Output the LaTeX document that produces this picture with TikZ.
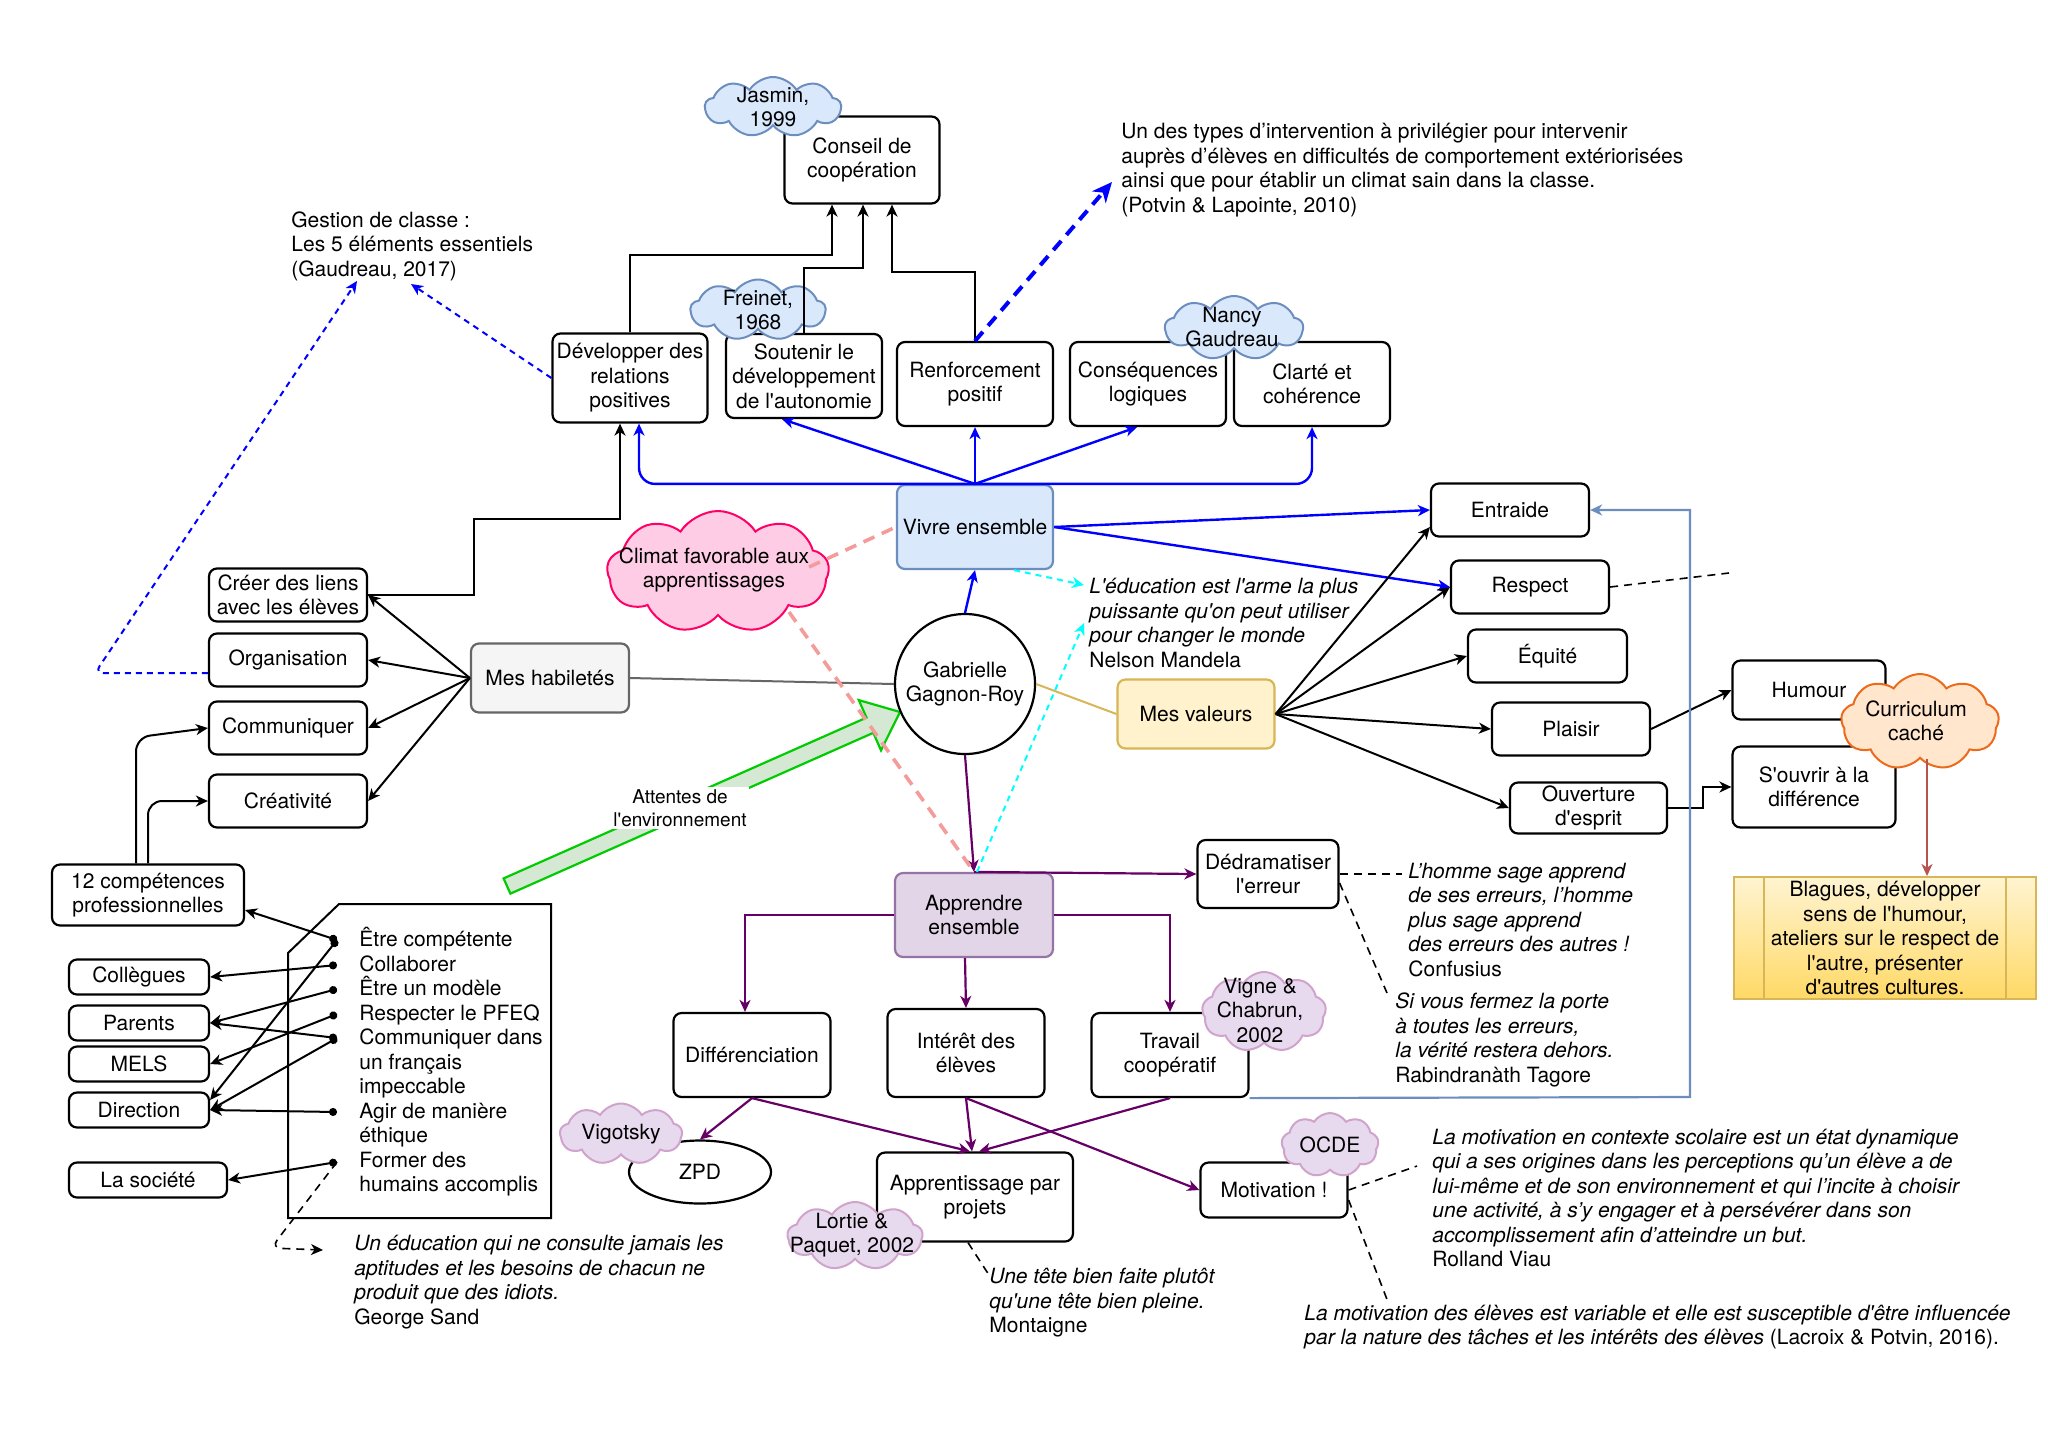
\documentclass[tikz,border=0pt]{standalone}
\usepackage{fontspec}
\setmainfont{TeX Gyre Heros}[Ligatures=TeXOff]
\usetikzlibrary{arrows.meta,shapes.symbols,shapes.geometric,calc}
\definecolor{bluefill}{HTML}{DAE8FC}
\definecolor{bluestroke}{HTML}{6C8EBF}
\definecolor{purfill}{HTML}{E1D5E7}
\definecolor{purstroke}{HTML}{9673A6}
\definecolor{purcfill}{HTML}{E8DAEE}
\definecolor{purcstroke}{HTML}{CFA3CB}
\definecolor{yelfill}{HTML}{FFF2CC}
\definecolor{yelstroke}{HTML}{D6B656}
\definecolor{grayfill}{HTML}{F5F5F5}
\definecolor{graystroke}{HTML}{666666}
\definecolor{pinkfill}{HTML}{FFCCE6}
\definecolor{pinkstroke}{HTML}{FF0066}
\definecolor{orfill}{HTML}{FFE6CC}
\definecolor{orstroke}{HTML}{EC6A1A}
\definecolor{salmon}{HTML}{F49C99}
\definecolor{purpline}{HTML}{660066}
\definecolor{greenline}{HTML}{00CC00}
\definecolor{greenfill}{HTML}{D5E8D4}
\definecolor{redline}{HTML}{B85450}
\definecolor{goldline}{HTML}{D6B656}
\definecolor{blagtop}{HTML}{FFF4D2}
\definecolor{blagbot}{HTML}{FFD966}
\definecolor{pureblue}{HTML}{0000FF}
\definecolor{purecyan}{HTML}{00FFFF}
\begin{document}
\begin{tikzpicture}[x=0.5pt,y=-0.5pt,
  every node/.style={font=\fontsize{10.5pt}{12.25pt}\selectfont},
  bx/.style={draw, rounded corners=4pt, line width=1.1pt, fill=white, align=center, inner sep=1pt},
  cloudy/.style={cloud, cloud puffs=9, cloud puff arc=115, cloud ignores aspect, draw, line width=1pt, inner sep=0pt},
  ctext/.style={align=center, inner sep=0pt},
  txt/.style={align=left, inner sep=0pt, anchor=west},
  tip/.style={-{Stealth[length=6pt,width=5.5pt,inset=1.8pt]}},
  blk/.style={tip, line width=1pt, black},
  blu/.style={tip, line width=1.2pt, pureblue},
  pur/.style={tip, line width=1.1pt, purpline},
  dotarrow/.style={{Circle[length=4pt]}-{Stealth[length=6pt,width=5.5pt,inset=1.8pt]}, line width=1pt},
  notes/.style={line width=0.8pt, dash pattern=on 4pt off 3pt},
  thindash/.style={line width=1pt, dash pattern=on 3pt off 2.5pt}
]
\useasboundingbox (0,0) rectangle (2048,1452);

% green arrow
\draw[greenline, fill=greenfill, line width=1.1pt] (503.6,878.4) -- (866.5,717.6) -- (858.8,700.1) -- (900,712) -- (881.0,750.3) -- (873.3,732.8) -- (510.4,893.6) -- cycle;

% list box
\draw[line width=1pt] (339,904) -- (551,904) -- (551,1218) -- (288,1218) -- (288,953) -- cycle;

% boxes
\node[bx, minimum width=77.5pt, minimum height=43.5pt] (conseil) at (862,160) {Conseil de\\coopération};
\node[bx, minimum width=77.5pt, minimum height=44.5pt] (dev) at (630,378) {Développer des\\relations\\positives};
\node[bx, minimum width=78pt, minimum height=42pt] (sout) at (804,376) {Soutenir le\\développement\\de l'autonomie};
\node[bx, minimum width=78pt, minimum height=42pt] (renf) at (975,384) {Renforcement\\positif};
\node[bx, minimum width=78pt, minimum height=42pt] (cons) at (1148,384) {Conséquences\\logiques};
\node[bx, minimum width=78pt, minimum height=42pt] (clar) at (1312,384) {Clarté et\\cohérence};
\node[bx, fill=bluefill, draw=bluestroke, minimum width=78pt, minimum height=42pt] (vivre) at (975,527) {Vivre ensemble};
\node[draw, circle, line width=1.1pt, fill=white, minimum size=70pt, align=center, inner sep=0pt] (gab) at (965,684) {Gabrielle\\Gagnon-Roy};
\node[bx, fill=grayfill, draw=graystroke, minimum width=79pt, minimum height=34.5pt] (hab) at (550,678) {Mes habiletés};
\node[bx, fill=yelfill, draw=yelstroke, minimum width=78.5pt, minimum height=34.5pt] (valeurs) at (1196,714) {Mes valeurs};
\node[bx, fill=purfill, draw=purstroke, minimum width=79pt, minimum height=42pt] (apprendre) at (974,915) {Apprendre\\ensemble};

\node[bx, minimum width=79pt, minimum height=26.5pt] (creer) at (288,595) {Créer des liens\\avec les élèves};
\node[bx, minimum width=79pt, minimum height=26.5pt] (orga) at (288,660) {Organisation};
\node[bx, minimum width=79pt, minimum height=26.5pt] (comm) at (288,728) {Communiquer};
\node[bx, minimum width=79pt, minimum height=26.5pt] (crea) at (288,801) {Créativité};
\node[bx, minimum width=96pt, minimum height=30.5pt] (douze) at (148,895) {12 compétences\\professionnelles};
\node[bx, minimum width=70pt, minimum height=17.5pt] (coll) at (139,977) {Collègues};
\node[bx, minimum width=70pt, minimum height=17.5pt] (parents) at (139,1023) {Parents};
\node[bx, minimum width=70pt, minimum height=17.5pt] (mels) at (139,1064) {MELS};
\node[bx, minimum width=70pt, minimum height=17.5pt] (direction) at (139,1110) {Direction};
\node[bx, minimum width=79pt, minimum height=17.5pt] (societe) at (148,1180) {La société};

\node[bx, minimum width=79pt, minimum height=26.5pt] (entraide) at (1510,510) {Entraide};
\node[bx, minimum width=79pt, minimum height=26.5pt] (respect) at (1530,587) {Respect};
\node[bx, minimum width=79.5pt, minimum height=26.5pt] (equite) at (1547.5,656) {Équité};
\node[bx, minimum width=79pt, minimum height=26.5pt] (plaisir) at (1571,729) {Plaisir};
\node[bx, minimum width=78.5pt, minimum height=25.5pt] (ouverture) at (1588.5,808) {Ouverture\\d'esprit};
\node[bx, minimum width=76.5pt, minimum height=29.5pt] (humour) at (1809,690) {Humour};
\node[bx, minimum width=81.5pt, minimum height=40.5pt] (souvrir) at (1814,787) {S'ouvrir à la\\différence};
\node[bx, minimum width=70.5pt, minimum height=34pt] (dedram) at (1268,874) {Dédramatiser\\l'erreur};
\node[bx, minimum width=78.5pt, minimum height=42pt] (diff) at (752,1055) {Différenciation};
\node[bx, minimum width=78.5pt, minimum height=44pt] (interet) at (966,1053) {Intérêt des\\élèves};
\node[bx, minimum width=78.5pt, minimum height=42pt] (travail) at (1170,1055) {Travail\\coopératif};
\node[bx, minimum width=98pt, minimum height=44.5pt] (appr) at (975,1197) {Apprentissage par\\projets};
\node[bx, minimum width=73.5pt, minimum height=27.5pt] (motiv) at (1274,1190) {Motivation !};
\node[draw, ellipse, line width=1.1pt, fill=white, minimum width=71pt, minimum height=31.5pt, inner sep=0pt] (zpd) at (700,1172) {ZPD};

\node[draw=yelstroke, line width=1pt, top color=blagtop, bottom color=blagbot, minimum width=151pt, minimum height=61pt, align=center, inner sep=0pt,
  path picture={\draw[yelstroke, line width=1pt] ([xshift=15pt]path picture bounding box.north west) -- ([xshift=15pt]path picture bounding box.south west);
                \draw[yelstroke, line width=1pt] ([xshift=-15pt]path picture bounding box.north east) -- ([xshift=-15pt]path picture bounding box.south east);}]
  (blagues) at (1885,938) {Blagues, développer\\sens de l'humour,\\ateliers sur le respect de\\l'autre, présenter\\d'autres cultures.};

% clouds
\node[cloudy, fill=bluefill, draw=bluestroke, minimum width=68pt, minimum height=30pt] (jasmin) at (773,107) {};
\node[ctext] (jasmintx) at (jasmin) {Jasmin,\\1999};
\node[cloudy, fill=bluefill, draw=bluestroke, minimum width=67.5pt, minimum height=30.5pt] (freinet) at (758,310) {};
\node[ctext] (freinettx) at (freinet) {Freinet,\\1968};
\node[cloudy, fill=bluefill, draw=bluestroke, minimum width=69pt, minimum height=32pt] (nancy) at (1234,328) {};
\node[ctext] (nancytx) at (1232,327) {Nancy\\Gaudreau};
\node[cloudy, fill=pinkfill, draw=pinkstroke, minimum width=111pt, minimum height=61pt] (climat) at (718,572) {};
\node[ctext] (climattx) at (714,570) {Climat favorable aux\\apprentissages};
\node[cloudy, fill=purcfill, draw=purcstroke, minimum width=61pt, minimum height=30.5pt] (vigotsky) at (621,1134) {};
\node[ctext] (vigotskytx) at (vigotsky) {Vigotsky};
\node[cloudy, fill=purcfill, draw=purcstroke, minimum width=62pt, minimum height=40pt] (vigne) at (1264,1012) {};
\node[ctext] (vignetx) at (1260,1010) {Vigne \&\\Chabrun,\\2002};
\node[cloudy, fill=purcfill, draw=purcstroke, minimum width=48.5pt, minimum height=32pt] (ocde) at (1330,1145) {};
\node[ctext] (ocdetx) at (ocde) {OCDE};
\node[cloudy, fill=purcfill, draw=purcstroke, minimum width=67.5pt, minimum height=34pt] (lortie) at (855,1236) {};
\node[ctext] (lortietx) at (852,1235) {Lortie \&\\Paquet, 2002};
\node[cloudy, fill=orfill, draw=orstroke, minimum width=79pt, minimum height=48pt] (curric) at (1920,722) {};
\node[ctext] (currictx) at (1916,721) {Curriculum\\caché};

% named free ends
\coordinate (g1) at (357,281);
\coordinate (g2) at (411,284);
\coordinate (potvintip) at (1112,182);
\coordinate (m1) at (1084,585);
\coordinate (m2) at (1084,623);
\coordinate (cA) at (809,567);
\coordinate (cB) at (789,612);
\coordinate (b1) at (337,940);
\coordinate (b2) at (337,965);
\coordinate (b3) at (337,989);
\coordinate (b4) at (337,1014);
\coordinate (b5) at (337,1038);
\coordinate (b6) at (337,1112);
\coordinate (b7) at (337,1162);
\coordinate (sandtip) at (323,1250);
\coordinate (n1) at (1402,874);
\coordinate (n2) at (1387,993);
\coordinate (n3) at (1729,573);
\coordinate (n4) at (1417,1166);
\coordinate (n5) at (1388,1302);
\coordinate (n6) at (989,1275);
\coordinate (cb) at ([xshift=3.5pt]curric.south);

% blue from Vivre ensemble
\draw[blu, rounded corners=8pt] (vivre.north) -| ([xshift=4.5pt]dev.south);
\draw[blu] (vivre.north) -- ([xshift=-11pt]sout.south);
\draw[blu] (vivre.north) -- (renf.south);
\draw[blu] (vivre.north) -- ([xshift=-5.5pt]cons.south);
\draw[blu, rounded corners=8pt] (vivre.north) -| (clar.south);
\draw[blu] (vivre.east) -- (entraide.west);
\draw[blu] (vivre.east) -- (respect.west);
\draw[blu] (gab.north) -- (vivre.south);

% black to conseil
\draw[blk] (dev.north) -- ++(0,-77) -| ([xshift=-15pt]conseil.south);
\draw[blk] (sout.north) -- ++(0,-65) -| ([xshift=0.5pt]conseil.south);
\draw[blk] (renf.north) -- ++(0,-69) -| ([xshift=15pt]conseil.south);

% habiletes
\draw[blk] (hab.west) -- (creer.east);
\draw[blk] (hab.west) -- (orga.east);
\draw[blk] (hab.west) -- (comm.east);
\draw[blk] (hab.west) -- (crea.east);
\draw[blk] (creer.east) -| (474,519) -| ([xshift=-5pt]dev.south);
\draw[blk, rounded corners=7pt] ([xshift=-6pt]douze.north) -- ++(0,-126) -- (comm.west);
\draw[blk, rounded corners=7pt] (douze.north) |- (crea.west);

% valeurs
\draw[blk] (valeurs.east) -- ([yshift=-8.5pt]entraide.west);
\draw[blk] (valeurs.east) -- (respect.west);
\draw[blk] (valeurs.east) -- (equite.west);
\draw[blk] (valeurs.east) -- (plaisir.west);
\draw[blk] (valeurs.east) -- (ouverture.west);
\draw[blk] (plaisir.east) -- (humour.west);
\draw[blk] (ouverture.east) -- ++(35,0) |- (souvrir.west);

% center links
\draw[graystroke, line width=1pt] (hab.east) -- (gab.west);
\draw[goldline, line width=1pt] (gab.east) -- (valeurs.west);
\draw[pur] (gab.south) -- (apprendre.north);

% apprendre ensemble
\draw[pur] (apprendre.north) -- (dedram.west);
\draw[pur] (apprendre.west) -| ([xshift=-3.5pt]diff.north);
\draw[pur] (apprendre.east) -| (travail.north);
\draw[pur] ([xshift=-4.5pt]apprendre.south) -- (interet.north);
\draw[pur] (diff.south) -- (zpd.north);
\draw[pur] (diff.south) -- ([xshift=-2.5pt]appr.north);
\draw[pur] (interet.south) -- ([xshift=-1.5pt]appr.north);
\draw[pur] (interet.south) -- (motiv.west);
\draw[pur] (travail.south) -- ([xshift=2pt]appr.north);

% light blue return
\draw[bluestroke, line width=1.1pt, tip] (travail.south east) -- (1690,1097) |- (entraide.east);

% curriculum
\draw[redline, line width=1.1pt, tip] (cb) -- (cb |- blagues.north);

% bullets
\draw[dotarrow] (b1) -- ([yshift=-7.5pt]douze.east);
\draw[dotarrow] (b1) -- ([yshift=5pt]direction.east);
\draw[dotarrow] (b2) -- (coll.east);
\draw[dotarrow] (b3) -- (parents.east);
\draw[dotarrow] (b4) -- (mels.east);
\draw[dotarrow] (b5) -- (parents.east);
\draw[dotarrow] (b5) -- (direction.east);
\draw[dotarrow] (b6) -- (direction.east);
\draw[dotarrow] (b7) -- (societe.east);
\draw[notes, tip, rounded corners=5pt] (b7) -- (271,1248) -- (sandtip);

% blue dashed
\draw[pureblue, thindash, tip, rounded corners=4pt] ([yshift=-6.5pt]orga.west) -- (95,673) -- (g1);
\draw[pureblue, thindash, tip] (dev.west) -- (g2);
\draw[pureblue, line width=2pt, dash pattern=on 6pt off 4pt, -{Stealth[length=10pt,width=9pt,inset=3pt]}] (renf.north) -- (potvintip);

% cyan dashed
\draw[purecyan, thindash, tip] ([xshift=19.5pt]vivre.south) -- (m1);
\draw[purecyan, thindash, tip] ([xshift=1.5pt]apprendre.north) -- (m2);

% pink dashed
\draw[salmon, line width=1.8pt, dash pattern=on 6pt off 4pt] (cA) -- (vivre.west);
\draw[salmon, line width=1.8pt, dash pattern=on 6pt off 4pt] (cB) -- (apprendre.north);

% black dashed notes
\draw[notes] (dedram.east) -- (n1);
\draw[notes] ([yshift=-4.5pt]dedram.east) -- (n2);
\draw[notes] (respect.east) -- (n3);
\draw[notes] (motiv.east) -- (n4);
\draw[notes] ([yshift=-5pt]motiv.east) -- (n5);
\draw[notes] ([xshift=-3.5pt]appr.south) -- (n6);

% label on green arrow
\node[fill=white, align=center, inner sep=1pt, font=\fontsize{9.5pt}{11.5pt}\selectfont] (attentes) at (680,808) {Attentes de\\l'environnement};

% texts
\node[txt] (gestion) at (291,246) {Gestion de classe :\\Les 5 éléments essentiels\\(Gaudreau, 2017)};
\node[txt] (potvin) at (1121,170) {Un des types d’intervention à privilégier pour intervenir\\auprès d’élèves en difficultés de comportement extériorisées\\ainsi que pour établir un climat sain dans la classe.\\(Potvin \& Lapointe, 2010)};
\node[txt] (mandela) at (1089,623) {\textit{L'éducation est l'arme la plus}\\\textit{puissante qu'on peut utiliser}\\\textit{pour changer le monde}\\Nelson Mandela};
\node[txt] (confus) at (1408,920) {\textit{L’homme sage apprend}\\\textit{de ses erreurs, l’homme}\\\textit{plus sage apprend}\\\textit{des erreurs des autres !}\\Confusius};
\node[txt] (tagore) at (1395,1040) {\textit{Si vous fermez la porte}\\\textit{à toutes les erreurs,}\\\textit{la vérité restera dehors.}\\Rabindranàth Tagore};
\node[txt] (liste) at (359,1062) {Être compétente\\Collaborer\\Être un modèle\\Respecter le PFEQ\\Communiquer dans\\un français\\impeccable\\Agir de manière\\éthique\\Former des\\humains accomplis};
\node[txt] (sand) at (354,1282) {\textit{Un éducation qui ne consulte jamais les}\\\textit{aptitudes et les besoins de chacun ne}\\\textit{produit que des idiots.}\\George Sand};
\node[txt] (montaigne) at (989,1303) {\textit{Une tête bien faite plutôt}\\\textit{qu'une tête bien pleine.}\\Montaigne};
\node[txt] (viau) at (1432,1198) {\textit{La motivation en contexte scolaire est un état dynamique}\\\textit{qui a ses origines dans les perceptions qu’un élève a de}\\\textit{lui-même et de son environnement et qui l’incite à choisir}\\\textit{une activité, à s’y engager et à persévérer dans son}\\\textit{accomplissement afin d’atteindre un but.}\\Rolland Viau};
\node[txt] (lacroix) at (1304,1327) {\textit{La motivation des élèves est variable et elle est susceptible d'être influencée}\\\textit{par la nature des tâches et les intérêts des élèves} (Lacroix \& Potvin, 2016).};
\end{tikzpicture}
\end{document}
